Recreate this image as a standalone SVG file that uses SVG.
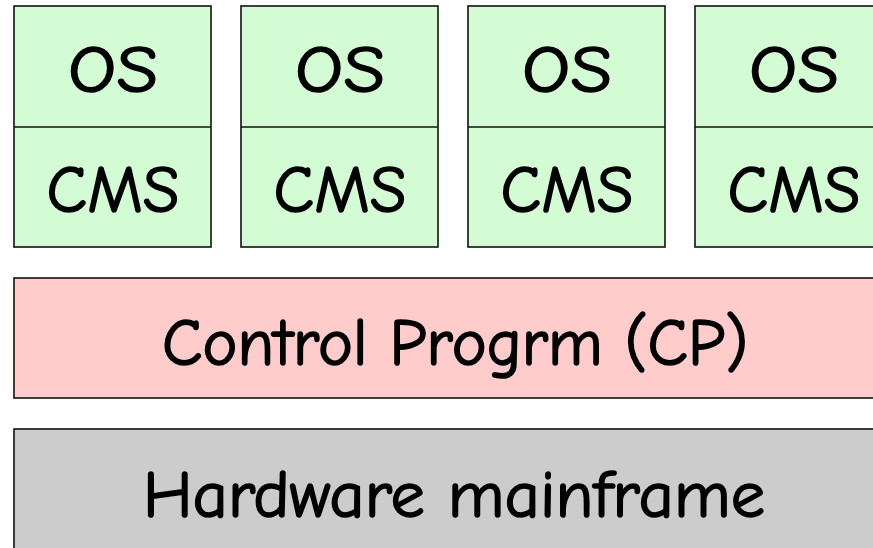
<svg xmlns="http://www.w3.org/2000/svg" width="873" height="548" viewBox="0 0 873 548">
  <style>
    .box { stroke: #111; stroke-width: 1.6; }
    .div { stroke: #111; stroke-width: 1.6; }
    .vm { fill: #d4fcd4; }
    .cp { fill: #ffcccc; }
    .hw { fill: #cccccc; }
    text { font-family: "Comic Sans MS", "Comic Neue", "Liberation Sans", sans-serif; font-weight: 400; fill: #000; stroke: #000; stroke-width: 1.6; stroke-linejoin: round; text-anchor: middle; font-size: 67px; }
  </style>
  <g id="vm1">
    <rect class="box vm" x="14" y="6" width="197" height="241"/>
    <line class="div" x1="14" y1="127" x2="211" y2="127"/>
    <text x="113" y="92" textLength="90" lengthAdjust="spacingAndGlyphs">OS</text>
    <text x="113" y="212" textLength="133" lengthAdjust="spacingAndGlyphs">CMS</text>
  </g>
  <g id="vm2">
    <rect class="box vm" x="241" y="6" width="197" height="241"/>
    <line class="div" x1="241" y1="127" x2="438" y2="127"/>
    <text x="340" y="92" textLength="90" lengthAdjust="spacingAndGlyphs">OS</text>
    <text x="340" y="212" textLength="133" lengthAdjust="spacingAndGlyphs">CMS</text>
  </g>
  <g id="vm3">
    <rect class="box vm" x="468" y="6" width="197" height="241"/>
    <line class="div" x1="468" y1="127" x2="665" y2="127"/>
    <text x="567" y="92" textLength="90" lengthAdjust="spacingAndGlyphs">OS</text>
    <text x="567" y="212" textLength="133" lengthAdjust="spacingAndGlyphs">CMS</text>
  </g>
  <g id="vm4">
    <rect class="box vm" x="695" y="6" width="197" height="241"/>
    <line class="div" x1="695" y1="127" x2="892" y2="127"/>
    <text x="794" y="92" textLength="90" lengthAdjust="spacingAndGlyphs">OS</text>
    <text x="794" y="212" textLength="133" lengthAdjust="spacingAndGlyphs">CMS</text>
  </g>
  <g id="cp">
    <rect class="box cp" x="14" y="278" width="881" height="120"/>
    <text x="455" y="365" textLength="586" lengthAdjust="spacingAndGlyphs">Control Progrm (CP)</text>
  </g>
  <g id="hardware">
    <rect class="box hw" x="14" y="429" width="881" height="130"/>
    <text x="454" y="517" textLength="622" lengthAdjust="spacingAndGlyphs">Hardware mainframe</text>
  </g>
</svg>
